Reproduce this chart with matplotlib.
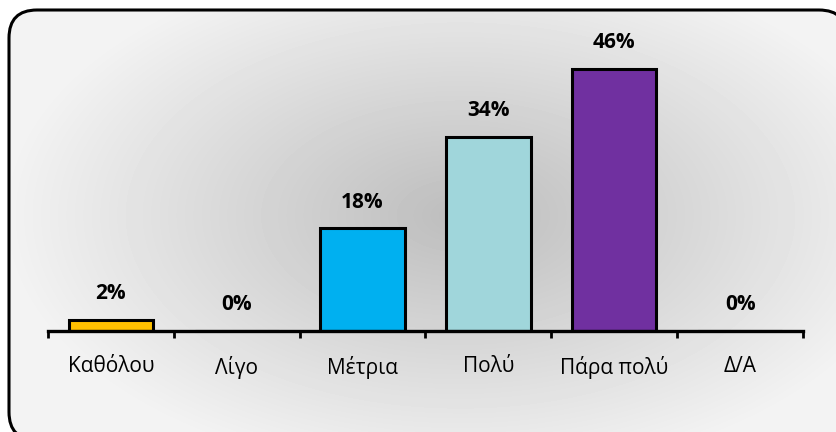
import matplotlib.pyplot as plt
import numpy as np
from matplotlib.patches import FancyBboxPatch

plt.rcParams["font.family"] = ["Open Sans", "DejaVu Sans"]

categories = ["Καθόλου", "Λίγο", "Μέτρια", "Πολύ", "Πάρα πολύ", "Δ/Α"]
values = [2, 0, 18, 34, 46, 0]
colors = ["#FFC000", "#FFC000", "#00B0F0", "#A0D6DB", "#7030A0", "#7030A0"]

W, H = 837, 432
fig = plt.figure(figsize=(W / 100, H / 100), dpi=100)

# background: radial gradient inside a rounded frame (frame runs past right/bottom edge)
bg = fig.add_axes([0, 0, 1, 1])
bg.axis("off")
yy, xx = np.mgrid[0:H, 0:W]
r = np.sqrt(((xx - 460) / 520) ** 2 + ((yy - 215) / 300) ** 2)
shade = np.clip(0.74 + 0.24 * r, 0, 0.95)
img = bg.imshow(shade, cmap="gray", vmin=0, vmax=1, extent=[0, W, 0, H],
                origin="upper", aspect="auto", zorder=0)
bg.set_xlim(0, W)
bg.set_ylim(0, H)
# near-invisible face so Agg does not clip the curved outline into straight lines
frame = FancyBboxPatch((9, -8), 838, H - 10 + 8, boxstyle="round,pad=0,rounding_size=28",
                       facecolor=(1, 1, 1, 0.002), edgecolor="black", linewidth=2.2, zorder=2)
bg.add_patch(frame)
img.set_clip_path(frame)

ax = fig.add_axes([48 / W, 1 - 331 / H, (803 - 48) / W, (331 - 45) / H])
ax.set_facecolor("none")
x = np.arange(len(categories))
bars = ax.bar(x, values, width=0.67, color=colors, edgecolor="black", linewidth=2.2, zorder=3)

for xi, v in zip(x, values):
    ax.annotate(f"{v}%", xy=(xi, v), xytext=(0, 19), textcoords="offset points",
                ha="center", va="center", fontsize=15, fontweight="bold")

ax.set_xlim(-0.5, len(categories) - 0.5)
ax.set_ylim(0, 50.2)
for s in ["top", "right", "left"]:
    ax.spines[s].set_visible(False)
ax.spines["bottom"].set_linewidth(2.4)
ax.spines["bottom"].set_zorder(4)
ax.set_yticks([])
ax.set_xticks(np.arange(len(categories) + 1) - 0.5)
ax.set_xticklabels([])
ax.set_xticks(x, minor=True)
ax.set_xticklabels(categories, minor=True, fontsize=15)
ax.tick_params(axis="x", which="major", length=5, width=2, direction="out")
ax.tick_params(axis="x", which="minor", length=0, pad=18)

fig.savefig("out.png", dpi=100, facecolor="white")
